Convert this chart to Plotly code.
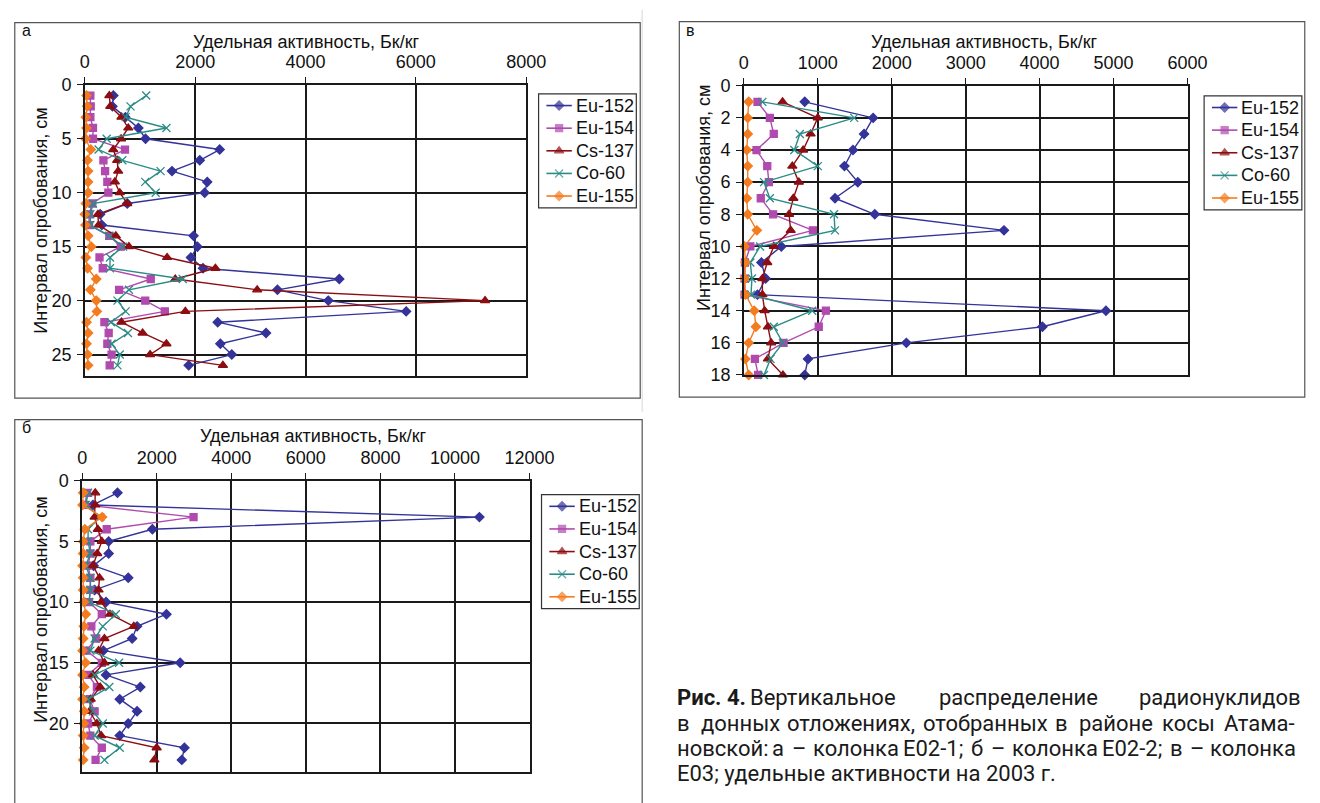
import plotly.graph_objects as go

W, H = 1320, 803

# ---------------- DATA ----------------
nuclides = ["Eu-152", "Eu-154", "Cs-137", "Co-60", "Eu-155"]

# Panel а (колонка Е02-1), depth 1..26 cm
depth_a = list(range(1, 27))
a_eu152 = [517, 500, 735, 970, 1100, 2444, 2083, 1580, 2219, 2172, 769, 278, 308, 1970, 2041, 1923, 2142, 4612, 3491, 4413, 5825, 2408, 3284, 2456, 2663, 1882]
a_eu154 = [100, 106, 100, 148, 148, 728, 337, 367, 408, 426, 136, 77, 77, 444, 651, 266, 325, 1195, 621, 1095, 1450, 355, 432, 408, 485, 450]
a_cs137 = [444, 461, 663, 787, 657, 515, 586, 604, 544, 633, 769, 237, 249, 562, 799, 1491, 2367, 1639, 3124, 7255, 1822, 663, 1047, 1479, 1183, 2503]
a_co60 = [1112, 828, 740, 1479, 396, 249, 680, 1373, 1095, 1284, 148, 100, 100, 444, 692, 456, 456, 1775, 799, 592, 740, 473, 781, 485, 633, 592]
a_eu155 = [30, 41, 18, 30, 12, 107, 48, 60, 60, 60, 18, 0, 12, 60, 118, 18, 48, 207, 100, 207, 219, 30, 60, 30, 48, 60]

# Panel б (колонка Е02-2), depth 1..23 cm
depth_b = list(range(1, 24))
b_eu152 = [946, 289, 10656, 1883, 710, 710, 307, 1235, 333, 639, 2260, 1472, 1340, 569, 2628, 639, 1559, 1007, 1472, 1235, 1007, 2742, 2672]
b_eu154 = [131, 70, 2987, 657, 219, 219, 158, 219, 219, 184, 526, 245, 377, 114, 526, 158, 394, 201, 333, 158, 219, 526, 359]
b_cs137 = [350, 350, 333, 420, 526, 403, 289, 464, 438, 508, 745, 1384, 596, 438, 596, 289, 482, 228, 201, 394, 508, 1997, 1936]
b_co60 = [158, 96, 482, 158, 158, 219, 96, 219, 219, 184, 902, 552, 333, 219, 990, 333, 727, 158, 289, 552, 333, 1007, 596]
b_eu155 = [26, 10, 534, 70, 26, 26, 10, 26, 26, 44, 96, 44, 26, 10, 88, 10, 53, 10, 53, 44, 26, 53, 26]

# Panel в (колонка Е03), depth 1..18 cm
depth_v = list(range(1, 19))
v_eu152 = [824, 1749, 1626, 1476, 1361, 1542, 1233, 1771, 3518, 507, 238, 295, 185, 4897, 4038, 2198, 868, 824]
v_eu154 = [185, 352, 405, 172, 317, 339, 229, 396, 934, 88, 15, 10, 10, 1110, 1013, 537, 150, 194]
v_cs137 = [524, 1000, 903, 802, 656, 744, 670, 612, 634, 405, 317, 251, 251, 282, 326, 370, 326, 529]
v_co60 = [251, 1493, 758, 683, 1000, 273, 352, 1220, 1233, 220, 88, 110, 97, 925, 405, 529, 361, 273]
v_eu155 = [66, 53, 53, 40, 53, 53, 40, 53, 176, 9, 22, 9, 22, 141, 163, 66, 22, 66]

x_title = "Удельная активность, Бк/кг"
y_title = "Интервал опробования, см"

caption_bold = "<b>Рис. 4.</b>"
caption_line1 = "Вертикальное распределение радионуклидов"
caption_line2 = "в донных отложениях, отобранных в районе косы Атама-"
caption_line3 = "новской: а – колонка Е02-1; б – колонка Е02-2; в – колонка"
caption_line4 = "Е03; удельные активности на 2003 г."

# ---------------- STYLE ----------------
colors = ["#333399", "#B04AAE", "#8C0E12", "#2A8C86", "#F47C20"]
symbols = ["diamond", "square", "triangle-up", "x-thin", "diamond"]
msizes = [7, 7, 8, 8, 7]
FONT = "Liberation Sans, Arial, sans-serif"
FS = 18


def px(x):
    return x / W


def py(y):
    return 1 - y / H


fig = go.Figure()

panels = [
    # depth, series, xaxis, yaxis, x max, x step, y max, y step, plot box (l, r, t, b), legend box (l, t)
    (depth_a, [a_eu152, a_eu154, a_cs137, a_co60, a_eu155], "x", "y",
     8000, 2000, 27, 5, (81.7, 533.3, 76.7, 375.5), (546, 86)),
    (depth_v, [v_eu152, v_eu154, v_cs137, v_co60, v_eu155], "x2", "y2",
     6000, 1000, 18, 2, (756, 1210, 77.7, 374.3), (1227, 88)),
    (depth_b, [b_eu152, b_eu154, b_cs137, b_co60, b_eu155], "x3", "y3",
     12000, 2000, 24, 5, (79, 536.7, 482.7, 781.5), (549, 497)),
]

shapes = []
annotations = []

for depth, series, xa, ya, xmax, dx, ymax, dy, box, lbox in panels:
    for i, (name, vals) in enumerate(zip(nuclides, series)):
        fig.add_trace(go.Scatter(
            x=vals, y=depth, name=name, mode="lines+markers",
            xaxis=xa, yaxis=ya, showlegend=False,
            line=dict(color=colors[i], width=1.4),
            marker=dict(symbol=symbols[i], size=msizes[i], color=colors[i],
                        line=dict(color=colors[i], width=1.3)),
            cliponaxis=False,
        ))
    l, r, t, b = box
    xname = "xaxis" + xa[1:]
    yname = "yaxis" + ya[1:]
    fig.layout[xname] = dict(
        domain=[px(l), px(r)], anchor=ya, side="top", range=[0, xmax], dtick=dx,
        tickformat="d",
        showgrid=True, gridcolor="#1a1a1a", gridwidth=1.6, zeroline=False,
        showline=True, linecolor="#1a1a1a", linewidth=1.6, mirror=True,
        ticks="outside", ticklen=6, tickcolor="#1a1a1a", tickwidth=1.4,
        ticklabelstandoff=2,
        tickfont=dict(family=FONT, size=FS, color="#111"), fixedrange=True,
    )
    fig.layout[yname] = dict(
        domain=[py(b), py(t)], anchor=xa, range=[ymax, 0], dtick=dy,
        showgrid=True, gridcolor="#1a1a1a", gridwidth=1.6, zeroline=False,
        showline=True, linecolor="#1a1a1a", linewidth=1.6, mirror=True,
        ticks="outside", ticklen=6, tickcolor="#1a1a1a", tickwidth=1.4,
        ticklabelstandoff=2,
        tickfont=dict(family=FONT, size=FS, color="#111"), fixedrange=True,
    )

    # ----- legend drawn in the Excel style (short sample line, tight rows) -----
    lx, ly = lbox
    shapes.append(dict(type="rect", xref="paper", yref="paper", layer="below",
                       x0=px(lx), x1=px(lx + 100), y0=py(ly + 117), y1=py(ly),
                       line=dict(color="#333", width=1.2), fillcolor="white"))
    row_y = [ly + 12 + 23.2 * k for k in range(len(nuclides))]
    for i, name in enumerate(nuclides):
        shapes.append(dict(type="line", xref="paper", yref="paper", layer="below",
                           x0=px(lx + 8), x1=px(lx + 34), y0=py(row_y[i]), y1=py(row_y[i]),
                           line=dict(color=colors[i], width=1.6)))
        annotations.append(dict(text=name, x=px(lx + 36), y=py(row_y[i]), xref="paper", yref="paper",
                                xanchor="left", yanchor="middle", showarrow=False,
                                font=dict(family=FONT, size=FS, color="#111")))
    fig.add_trace(go.Scatter(
        x=[lx + 21] * len(nuclides), y=row_y, mode="markers", xaxis="x4", yaxis="y4",
        showlegend=False, hoverinfo="skip", cliponaxis=False,
        marker=dict(symbol=symbols, size=msizes, color=colors,
                    line=dict(color=colors, width=1.3)),
    ))

# full-page helper axes for the legend sample markers
fig.update_layout(
    xaxis4=dict(domain=[0, 1], range=[0, W], visible=False, fixedrange=True, anchor="y4"),
    yaxis4=dict(domain=[0, 1], range=[H, 0], visible=False, fixedrange=True, anchor="x4"),
)

for (x0, x1, y0, y1) in [(10, 650, 13, 398), (690, 1330, 12, 397), (10, 652, 420, 820)]:
    shapes.append(dict(type="rect", xref="paper", yref="paper",
                       x0=px(x0), x1=px(x1), y0=py(y1), y1=py(y0),
                       line=dict(color="#555", width=1.2), fillcolor="rgba(0,0,0,0)", layer="below"))
shapes.append(dict(type="line", xref="paper", yref="paper", x0=px(652), x1=px(652),
                   y0=py(412), y1=py(0), line=dict(color="#ddd", width=1.2)))

for txt, x, y in [("а", 15, 21), ("в", 695, 21), ("б", 15, 428)]:
    annotations.append(dict(text=txt, x=px(x), y=py(y), xref="paper", yref="paper",
                            xanchor="left", yanchor="middle", showarrow=False,
                            font=dict(family=FONT, size=16, color="#111")))
for x, y in [(308, 33), (1002, 33), (316, 437)]:
    annotations.append(dict(text=x_title, x=px(x), y=py(y), xref="paper", yref="paper",
                            xanchor="center", yanchor="middle", showarrow=False,
                            font=dict(family=FONT, size=FS, color="#111")))
for x, y in [(36, 216), (715, 193), (37, 615)]:
    annotations.append(dict(text=y_title, x=px(x), y=py(y), xref="paper", yref="paper",
                            xanchor="center", yanchor="middle", showarrow=False, textangle=-90,
                            font=dict(family=FONT, size=FS, color="#111")))

# ---------------- caption (justified text emulation) ----------------
CAP = "Roboto, Open Sans, sans-serif"
CFS = 22
cap_font = dict(family=CAP, size=CFS, color="#1a1a1a")
CW = {  # approximate advance widths (em), Roboto
    "а": .531, "б": .551, "в": .538, "г": .41, "д": .57, "е": .528, "ж": .732, "з": .503,
    "и": .555, "й": .555, "к": .53, "л": .555, "м": .701, "н": .555, "о": .556, "п": .555,
    "р": .548, "с": .523, "т": .49, "у": .493, "х": .491, "ы": .7, "ь": .51, "я": .525,
    "А": .652, "Е": .567, "В": .62, ",": .2, ";": .21, ":": .21, "–": .55, "-": .28, ".": .26,
}


def word_w(w):
    return sum(CW.get(ch, .561) for ch in w) * CFS


COL_L, COL_R = 687, 1316


def cap_text(txt, x, y):
    annotations.append(dict(text=txt, x=px(x), y=py(y), xref="paper", yref="paper",
                            xanchor="left", yanchor="middle", showarrow=False, font=cap_font,
                            borderpad=0))


def justify(words, y, left):
    total = sum(word_w(w) for w in words)
    gap = (COL_R - left - total) / (len(words) - 1)
    x = left
    for w in words:
        cap_text(w, x, y)
        x += word_w(w) + gap


cap_text(caption_bold, COL_L, 705.5)
justify(caption_line1.split(" "), 705.5, 761)
justify(caption_line2.split(" "), 731.5, COL_L)
justify(caption_line3.split(" "), 757.3, COL_L)
cap_text(caption_line4, COL_L, 783)

fig.update_layout(
    width=W, height=H, autosize=False,
    margin=dict(l=0, r=0, t=0, b=0),
    paper_bgcolor="white", plot_bgcolor="rgba(0,0,0,0)",
    shapes=shapes, annotations=annotations, showlegend=False,
    font=dict(family=FONT, color="#111"),
)

fig.write_html("out.html")
